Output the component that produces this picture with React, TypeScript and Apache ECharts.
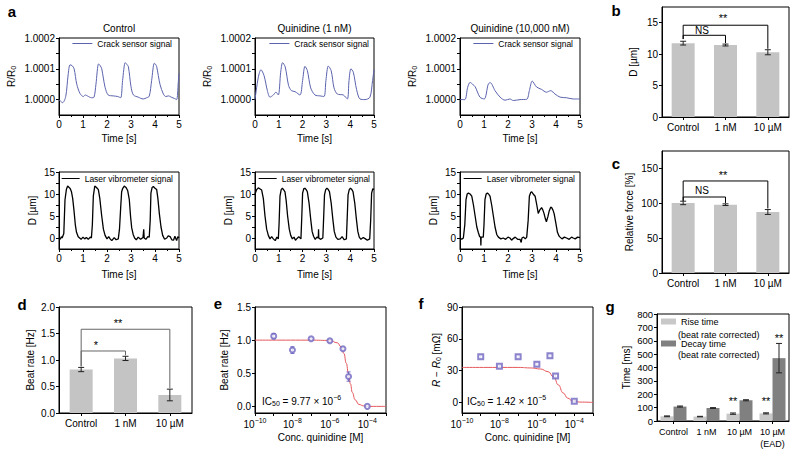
import React, { useEffect, useRef } from 'react';
import * as echarts from 'echarts';

const FONT = 'Liberation Sans, Arial, Helvetica, sans-serif';

// ---------- Panel a : time traces (t [s], value) ----------
const A_TITLES = ['Control', 'Quinidine (1 nM)', 'Quinidine (10,000 nM)'];
const CRACK_NAME = 'Crack sensor signal';
const LASER_NAME = 'Laser vibrometer signal';

const CRACK_CONTROL = [
  [0, 1.0], [0.15, 0.99999], [0.28, 1.00001], [0.38, 1.00008], [0.46, 1.000113], [0.55, 1.00011], [0.63, 1.0001],
  [0.74, 1.00005], [0.875, 1.00002], [1.01, 1.00001], [1.1, 1.000015], [1.18, 1.000012], [1.36, 1.000006], [1.46, 1.000008],
  [1.54, 1.00005], [1.65, 1.000116], [1.72, 1.00011], [1.78, 1.0001], [1.92, 1.00004], [2.05, 1.000015], [2.26, 1.000012],
  [2.45, 1.00001], [2.57, 1.000006], [2.65, 1.000062], [2.76, 1.00012], [2.82, 1.000115], [2.89, 1.000107], [3.0, 1.000042],
  [3.1, 1.000015], [3.3, 1.000008], [3.51, 1.000002], [3.65, 1.000006], [3.76, 1.000011], [3.86, 1.000062], [3.97, 1.000118],
  [4.02, 1.000115], [4.07, 1.000107], [4.21, 1.000049], [4.35, 1.000018], [4.45, 1.00001], [4.56, 1.000012], [4.7, 1.000007],
  [4.8, 1.000004], [4.9, 1.0], [4.97, 1.000055], [5.0, 1.000085],
];
const CRACK_1NM = [
  [0, 1.0], [0.14, 1.000073], [0.25, 1.000097], [0.38, 1.000078], [0.52, 1.000029], [0.63, 1.000008], [0.77, 1.000015],
  [0.88, 1.000024], [0.98, 1.000015], [1.08, 1.000089], [1.16, 1.00012], [1.27, 1.000106], [1.41, 1.000046], [1.53, 1.000029],
  [1.68, 1.000026], [1.89, 1.000015], [2.0, 1.000062], [2.1, 1.000108], [2.2, 1.000094], [2.34, 1.000038], [2.52, 1.000015],
  [2.73, 1.000012], [2.9, 1.00001], [2.98, 1.000062], [3.08, 1.000109], [3.2, 1.000094], [3.32, 1.000038], [3.46, 1.000018],
  [3.71, 1.000015], [3.88, 1.000002], [3.95, 1.000062], [4.03, 1.0001], [4.13, 1.000089], [4.27, 1.000032], [4.41, 1.000002],
  [4.62, 1.0], [4.83, 1.000008], [4.94, 1.000062], [5.0, 1.000097],
];
const CRACK_10UM = [
  [0, 1.0], [0.2, 1.0], [0.32, 1.00004], [0.42, 1.000056], [0.52, 1.00005], [0.63, 1.000042], [0.83, 1.000008],
  [1.01, 1.000002], [1.18, 1.000051], [1.26, 1.000055], [1.46, 1.000029], [1.67, 1.000008], [1.88, 0.999998],
  [2.08, 1.000002], [2.22, 0.999997], [2.5, 1.0], [2.78, 1.000001], [2.89, 1.000029], [3.01, 1.00006], [3.19, 1.000041],
  [3.4, 1.000033], [3.6, 1.000024], [3.78, 1.000029], [3.96, 1.000018], [4.17, 1.000008], [4.44, 1.000006],
  [4.72, 1.000002], [5.0, 1.000002],
];
const LASER_CONTROL = [
  [0, 0.1], [0.05, -0.3], [0.1, 0.3], [0.13, 0], [0.2, 1], [0.25, 8.7], [0.31, 11.1], [0.36, 11.8], [0.42, 11.5],
  [0.47, 11.2], [0.52, 10.5], [0.57, 9], [0.62, 6.5], [0.68, 3], [0.73, 1.3], [0.8, 0.3], [0.86, 0], [0.92, -0.3],
  [1.0, 0.2], [1.07, -0.2], [1.14, 0.1], [1.22, -0.3], [1.3, 0.2], [1.35, 0], [1.39, 3], [1.43, 9.5], [1.49, 11.8],
  [1.54, 11.6], [1.59, 11.3], [1.64, 11], [1.7, 9], [1.78, 5], [1.85, 2], [1.92, 0.6], [2.0, -0.2], [2.07, 0.3],
  [2.13, -0.2], [2.2, -0.6], [2.3, 0.1], [2.38, -0.4], [2.47, -0.2], [2.52, 2], [2.57, 6.9], [2.61, 10.5], [2.65, 11.2],
  [2.72, 11.8], [2.79, 11.5], [2.86, 10.8], [2.93, 8.7], [2.98, 5], [3.03, 2.3], [3.09, 0.8], [3.15, 0], [3.22, -0.4],
  [3.3, 0.2], [3.4, -0.3], [3.5, 0.1], [3.53, 2], [3.55, 0], [3.62, -0.3], [3.7, 0.3], [3.76, 0.2], [3.8, 4], [3.83, 10.2],
  [3.88, 11.5], [3.93, 11.7], [4.0, 11.3], [4.07, 11], [4.12, 9], [4.18, 5.6], [4.25, 2.5], [4.32, 0.6], [4.4, -0.3],
  [4.49, 0], [4.55, 0.5], [4.63, 0.3], [4.7, -0.4], [4.77, -0.5], [4.83, 0.4], [4.9, -0.6], [4.95, 0.3], [5.0, 0],
];
const LASER_1NM = [
  [0, 10], [0.07, 11], [0.14, 11.4], [0.2, 11.2], [0.28, 10.9], [0.35, 9], [0.42, 5], [0.49, 2], [0.56, 0.6], [0.63, -0.2],
  [0.7, 0.3], [0.77, -0.2], [0.85, -0.6], [0.92, 0.2], [0.98, -0.2], [1.01, 3], [1.05, 9.5], [1.1, 11], [1.15, 11.3],
  [1.2, 11], [1.26, 10.5], [1.31, 8.5], [1.37, 5], [1.44, 2], [1.5, 0.6], [1.57, -0.2], [1.64, 0.2], [1.7, -0.5],
  [1.75, -0.2], [1.84, 0.3], [1.93, -0.2], [1.96, 4], [2.0, 10.2], [2.05, 11.2], [2.1, 11.3], [2.15, 11], [2.2, 10.5],
  [2.27, 8], [2.34, 4.3], [2.4, 1.5], [2.46, 0.4], [2.53, -0.3], [2.6, 0.2], [2.66, 0], [2.67, 2], [2.68, 0], [2.75, -0.3],
  [2.85, 0], [2.88, 4], [2.92, 9.8], [2.97, 11], [3.02, 11.3], [3.08, 11], [3.13, 10.5], [3.2, 8], [3.27, 4.3], [3.33, 1.5],
  [3.4, 0.2], [3.48, -0.3], [3.58, -0.2], [3.66, 0.3], [3.75, -0.4], [3.84, -0.2], [3.87, 4], [3.91, 9.8], [3.96, 11],
  [4.01, 11.3], [4.07, 11], [4.12, 10.5], [4.19, 8], [4.26, 4.3], [4.32, 1.5], [4.38, 0.2], [4.45, -0.3], [4.55, 0.1],
  [4.64, -0.2], [4.72, -0.5], [4.82, -0.2], [4.86, 4], [4.9, 10.2], [4.95, 11.2], [5.0, 11],
];
const LASER_10UM = [
  [0, 0], [0.07, -0.3], [0.14, 0], [0.2, 3], [0.25, 8.7], [0.3, 10], [0.35, 10.2], [0.42, 10], [0.49, 9.5], [0.56, 7.5],
  [0.63, 5], [0.7, 2.5], [0.76, 1.3], [0.82, 0.3], [0.86, 0.2], [0.87, -1.7], [0.88, 0.2], [0.97, 0.2], [1.0, 3],
  [1.04, 8.7], [1.09, 10], [1.14, 10.2], [1.19, 10], [1.25, 9.5], [1.32, 7.5], [1.39, 5], [1.46, 2.5], [1.53, 0.8],
  [1.6, 0.2], [1.7, -0.2], [1.8, 0], [1.9, -0.3], [2.0, 0.2], [2.08, 0], [2.15, -0.5], [2.2, -0.2], [2.3, 0.2], [2.4, -0.3],
  [2.5, -0.3], [2.55, -1], [2.58, 0], [2.65, 0.2], [2.72, -0.2], [2.78, 0.2], [2.84, 4], [2.89, 9.5], [2.95, 10.4],
  [2.99, 10.5], [3.05, 10], [3.13, 9.5], [3.2, 7.5], [3.26, 5.6], [3.33, 6.4], [3.4, 6.9], [3.45, 6.4], [3.5, 5.6],
  [3.56, 4.3], [3.6, 3.7], [3.66, 4.8], [3.72, 6.2], [3.78, 7], [3.82, 6.9], [3.87, 6.4], [3.92, 5.6], [3.99, 3.5],
  [4.06, 1.3], [4.12, 0.5], [4.17, 0.2], [4.25, -0.2], [4.35, 0.2], [4.44, 0], [4.55, -0.3], [4.65, 0.2], [4.72, 0],
  [4.8, -0.2], [4.9, 0.2], [5.0, 0.1],
];
const R_LABELS = [1.0, 1.0001, 1.0002];
const R_TICKS = [1.0, 1.00005, 1.0001, 1.00015, 1.0002];
const D_LABELS = [0, 5, 10, 15];
const D_TICKS = [0, 2.5, 5, 7.5, 10, 12.5, 15];

// ---------- Panels b, c, d ----------
const BAR_CATS = ['Control', '1 nM', '10 µM'];
const B_DISP = [11.75, 11.45, 10.3];
const B_ERR = [0.3, 0.15, 0.4];
const C_FORCE = [100.5, 98, 87.5];
const C_ERR = [2.5, 1.2, 3.5];
const D_RATE = [0.82, 1.03, 0.34];
const D_ERR = [0.04, 0.04, 0.11];

// significance brackets [category index, value]
const B_NS = [[0, 12.4], [0, 13.0], [1, 13.0], [1, 11.75]];
const B_SIG = [[0, 12.4], [0, 14.6], [2, 14.6], [2, 10.85]];
const C_NS = [[0, 103.5], [0, 109], [1, 109], [1, 100.5]];
const C_SIG = [[0, 103.5], [0, 132], [2, 132], [2, 92.5]];
const D_SIG1 = [[0, 0.88], [0, 1.17], [1, 1.17], [1, 1.09]];
const D_SIG2 = [[0, 0.88], [0, 1.58], [2, 1.58], [2, 0.47]];

// ---------- Panels e, f ----------
const E_CONC = [1e-9, 1e-8, 1e-7, 1e-6, 5e-6, 1e-5, 1e-4];
const E_RATE = [1.06, 0.85, 1.02, 0.99, 0.87, 0.45, 0.0];
const E_ERR = [0.04, 0.05, 0.015, 0.02, 0.02, 0.07, 0.0];
const E_FIT = [
  [-10, 1.0], [-7, 1.0], [-6, 0.995], [-5.6, 0.96], [-5.4, 0.9], [-5.25, 0.8], [-5.12, 0.65], [-5.01, 0.5],
  [-4.9, 0.34], [-4.8, 0.21], [-4.65, 0.1], [-4.45, 0.03], [-4.2, 0.008], [-3.8, 0], [-3, 0],
];
const F_CONC = [1e-9, 1e-8, 1e-7, 1e-6, 5e-6, 1e-5, 1e-4];
const F_VAL = [43, 34, 43, 36, 44, 25, 1];
const F_ERR = [1.5, 1, 1.5, 1.5, 1.5, 1.5, 0.5];
const F_FIT = [
  [-10, 33], [-7, 33], [-6.3, 32.5], [-5.8, 31.5], [-5.4, 29], [-5.1, 24], [-4.85, 16.5], [-4.6, 9],
  [-4.35, 4], [-4.1, 1.5], [-3.7, 0.3], [-3, 0],
];

// ---------- Panel g ----------
const G_CATS = ['Control', '1 nM', '10 µM', '10 µM\n(EAD)'];
const G_RISE = [35, 33, 55, 57];
const G_RISE_ERR = [3, 2, 5, 4];
const G_DECAY = [108, 97, 155, 470];
const G_DECAY_ERR = [4, 3, 4, 110];
const G_RISE_SIG = [false, false, true, true];
const G_DECAY_SIG = [false, false, false, true];

const GRIDS = [
  { left: 59, top: 38, width: 120, height: 77 },
  { left: 255, top: 38, width: 119, height: 77 },
  { left: 460, top: 38, width: 120, height: 77 },
  { left: 59, top: 172, width: 120, height: 77 },
  { left: 255, top: 172, width: 119, height: 77 },
  { left: 460, top: 172, width: 120, height: 77 },
  { left: 662, top: 7, width: 127, height: 110 },
  { left: 662, top: 151, width: 127, height: 122 },
  { left: 59, top: 307, width: 133, height: 106 },
  { left: 255, top: 307, width: 131, height: 106 },
  { left: 462, top: 307, width: 131, height: 106 },
  { left: 657, top: 314, width: 132, height: 107 },
];

function axis(extra: any) {
  const base: any = {
    axisLine: { show: true, onZero: false, lineStyle: { color: '#000', width: 1 } },
    axisTick: { show: true, inside: false, length: 3, lineStyle: { color: '#000', width: 1 } },
    axisLabel: { color: '#000', fontSize: 10, fontFamily: FONT, margin: 4 },
    splitLine: { show: false },
    nameTextStyle: { color: '#000', fontSize: 10, fontFamily: FONT },
  };
  const out: any = { ...base, ...extra };
  for (const k of ['axisLine', 'axisTick', 'axisLabel', 'nameTextStyle']) {
    if (extra[k]) out[k] = { ...base[k], ...extra[k] };
  }
  return out;
}

function errSeries(idx: number, data: number[][], offset = 0, cap = 3, color = '#222') {
  return {
    type: 'custom', xAxisIndex: idx, yAxisIndex: idx, data, silent: true, z: 5,
    renderItem: (_p: any, api: any) => {
      const x = api.value(0), y = api.value(1), e = api.value(2);
      const p1 = api.coord([x, y + e]);
      const p2 = api.coord([x, y - e]);
      const cx = p1[0] + offset;
      const st = { stroke: color, lineWidth: 1 };
      return {
        type: 'group', children: [
          { type: 'line', shape: { x1: cx, y1: p1[1], x2: cx, y2: p2[1] }, style: st },
          { type: 'line', shape: { x1: cx - cap, y1: p1[1], x2: cx + cap, y2: p1[1] }, style: st },
          { type: 'line', shape: { x1: cx - cap, y1: p2[1], x2: cx + cap, y2: p2[1] }, style: st },
        ],
      };
    },
  };
}

function bracket(idx: number, data: number[][], color = '#000') {
  return {
    type: 'line', xAxisIndex: idx, yAxisIndex: idx, data, symbol: 'none', silent: true, z: 4,
    lineStyle: { color, width: 1 },
  };
}

const SUP = { fontSize: 7, fontFamily: FONT, color: '#000', padding: [0, 0, 7, 0] };
const SUB = { fontSize: 7, fontFamily: FONT, color: '#000', padding: [5, 0, 0, 0] };

function txt(x: number, y: number, text: string, size = 10, extra: any = {}) {
  return {
    type: 'text', x, y, silent: true,
    style: { text, fill: '#000', font: `${size}px ${FONT}`, align: 'center', verticalAlign: 'middle', ...extra },
  };
}

function buildOption() {
  const xAxis: any[] = [];
  const yAxis: any[] = [];
  const series: any[] = [];
  const legend: any[] = [];

  const crack = [CRACK_CONTROL, CRACK_1NM, CRACK_10UM];
  const laser = [LASER_CONTROL, LASER_1NM, LASER_10UM];
  const topRight = [618, 421, 217];
  const botRight = [617, 420, 215];

  for (let i = 0; i < 3; i++) {
    xAxis.push(axis({
      type: 'value', gridIndex: i, min: 0, max: 5, interval: 1, name: 'Time [s]', nameLocation: 'middle', nameGap: 18,
      minorTick: { show: true, splitNumber: 2, length: 2, lineStyle: { color: '#000' } },
    }));
    yAxis.push(axis({
      type: 'value', gridIndex: i, min: 0.99995, max: 1.0002, name: 'R/R{sub|0}', nameLocation: 'middle', nameGap: 42,
      nameTextStyle: { rich: { sub: SUB } },
      axisLabel: { customValues: R_LABELS, formatter: (v: number) => v.toFixed(4) },
      axisTick: { customValues: R_TICKS },
    }));
    series.push({
      type: 'line', name: CRACK_NAME, xAxisIndex: i, yAxisIndex: i, data: crack[i], symbol: 'none', smooth: 0.3,
      lineStyle: { color: '#5b63ae', width: 1 }, itemStyle: { color: '#5b63ae' },
    });
    legend.push({
      data: [{ name: CRACK_NAME, icon: 'rect' }], right: topRight[i], top: 39, padding: 0, itemWidth: 20, itemHeight: 1,
      selectedMode: false, textStyle: { fontSize: 8.5, fontFamily: FONT, color: '#000', padding: [0, 0, 0, 0] },
    });
  }
  for (let i = 0; i < 3; i++) {
    const g = 3 + i;
    xAxis.push(axis({
      type: 'value', gridIndex: g, min: 0, max: 5, interval: 1, name: 'Time [s]', nameLocation: 'middle', nameGap: 20,
      minorTick: { show: true, splitNumber: 2, length: 2, lineStyle: { color: '#000' } },
    }));
    yAxis.push(axis({
      type: 'value', gridIndex: g, min: -2.5, max: 15, name: 'D [µm]', nameLocation: 'middle', nameGap: 22,
      axisLabel: { customValues: D_LABELS },
      axisTick: { customValues: D_TICKS },
    }));
    series.push({
      type: 'line', name: LASER_NAME, xAxisIndex: g, yAxisIndex: g, data: laser[i], symbol: 'none',
      lineStyle: { color: '#000', width: 1.3 }, itemStyle: { color: '#000' },
    });
    legend.push({
      data: [{ name: LASER_NAME, icon: 'rect' }], right: botRight[i], top: 174, padding: 0, itemWidth: 18, itemHeight: 1,
      selectedMode: false, textStyle: { fontSize: 8.5, fontFamily: FONT, color: '#000' },
    });
  }

  // b
  const catAxis = (g: number, data: string[]) => axis({
    type: 'category', gridIndex: g, data, boundaryGap: true,
    axisTick: { alignWithLabel: true }, axisLabel: { margin: 5, fontSize: 10, interval: 0 },
  });
  xAxis.push(catAxis(6, BAR_CATS));
  yAxis.push(axis({
    type: 'value', gridIndex: 6, min: 0, max: 17.5, name: 'D [µm]', nameLocation: 'middle', nameGap: 24,
    axisLabel: { customValues: [0, 5, 10, 15] }, axisTick: { customValues: [0, 5, 10, 15] },
  }));
  series.push({ type: 'bar', xAxisIndex: 6, yAxisIndex: 6, data: B_DISP, barWidth: 23, itemStyle: { color: '#c4c4c4' }, silent: true });
  series.push(errSeries(6, BAR_CATS.map((_, i) => [i, B_DISP[i], B_ERR[i]])));
  series.push(bracket(6, B_NS), bracket(6, B_SIG));

  // c
  xAxis.push(catAxis(7, BAR_CATS));
  yAxis.push(axis({
    type: 'value', gridIndex: 7, min: 0, max: 175, name: 'Relative force [%]', nameLocation: 'middle', nameGap: 28,
    axisLabel: { customValues: [0, 50, 100, 150] }, axisTick: { customValues: [0, 50, 100, 150] },
  }));
  series.push({ type: 'bar', xAxisIndex: 7, yAxisIndex: 7, data: C_FORCE, barWidth: 23, itemStyle: { color: '#c4c4c4' }, silent: true });
  series.push(errSeries(7, BAR_CATS.map((_, i) => [i, C_FORCE[i], C_ERR[i]])));
  series.push(bracket(7, C_NS), bracket(7, C_SIG));

  // d
  xAxis.push(catAxis(8, BAR_CATS));
  yAxis.push(axis({
    type: 'value', gridIndex: 8, min: 0, max: 2, interval: 0.5, name: 'Beat rate [Hz]', nameLocation: 'middle', nameGap: 24,
    axisLabel: { formatter: (v: number) => v.toFixed(1) },
  }));
  series.push({ type: 'bar', xAxisIndex: 8, yAxisIndex: 8, data: D_RATE, barWidth: 23, itemStyle: { color: '#c4c4c4' }, silent: true });
  series.push(errSeries(8, BAR_CATS.map((_, i) => [i, D_RATE[i], D_ERR[i]])));
  series.push(bracket(8, D_SIG1, '#666'), bracket(8, D_SIG2, '#666'));

  // e, f
  const logAxis = (g: number) => axis({
    type: 'value', gridIndex: g, min: -10, max: -3, interval: 1, name: 'Conc. quinidine [M]', nameLocation: 'middle', nameGap: 19,
    axisLabel: {
      margin: 4,
      formatter: (v: number) => (v % 2 === 0 && v <= -4 ? `10{sup|−${Math.abs(v)}}` : ''),
      rich: { sup: SUP },
    },
  });
  xAxis.push(logAxis(9));
  yAxis.push(axis({
    type: 'value', gridIndex: 9, min: -0.1, max: 1.5, name: 'Beat rate [Hz]', nameLocation: 'middle', nameGap: 26,
    axisLabel: { customValues: [0, 0.5, 1, 1.5], formatter: (v: number) => v.toFixed(1) },
    axisTick: { customValues: [0, 0.5, 1, 1.5] },
  }));
  series.push({
    type: 'line', xAxisIndex: 9, yAxisIndex: 9, data: E_FIT, symbol: 'none', smooth: true, smoothMonotone: 'x',
    lineStyle: { color: '#e5575c', width: 1 }, silent: true,
  });
  series.push(errSeries(9, E_CONC.map((c, i) => [Math.log10(c), E_RATE[i], E_ERR[i]]), 0, 2, '#6f66c0'));
  series.push({
    type: 'scatter', xAxisIndex: 9, yAxisIndex: 9, data: E_CONC.map((c, i) => [Math.log10(c), E_RATE[i]]),
    symbol: 'emptyCircle', symbolSize: 5, itemStyle: { color: '#6f66c0', borderWidth: 1 }, silent: true, z: 6,
  });

  xAxis.push(logAxis(10));
  yAxis.push(axis({
    type: 'value', gridIndex: 10, min: -10, max: 90, name: '{i|R} − {i|R}{sub|0} [mΩ]', nameLocation: 'middle', nameGap: 20,
    nameTextStyle: { rich: { i: { fontStyle: 'italic', fontSize: 10, fontFamily: FONT, color: '#000' }, sub: SUB } },
    axisLabel: { customValues: [0, 30, 60, 90] },
    axisTick: { customValues: [0, 30, 60, 90] },
  }));
  series.push({
    type: 'line', xAxisIndex: 10, yAxisIndex: 10, data: F_FIT, symbol: 'none', smooth: true, smoothMonotone: 'x',
    lineStyle: { color: '#e5575c', width: 1 }, silent: true,
  });
  series.push(errSeries(10, F_CONC.map((c, i) => [Math.log10(c), F_VAL[i], F_ERR[i]]), 0, 2, '#6f66c0'));
  series.push({
    type: 'scatter', xAxisIndex: 10, yAxisIndex: 10, data: F_CONC.map((c, i) => [Math.log10(c), F_VAL[i]]),
    symbol: 'emptyRect', symbolSize: 5, itemStyle: { color: '#6f66c0', borderWidth: 1 }, silent: true, z: 6,
  });

  // g
  xAxis.push(axis({
    type: 'category', gridIndex: 11, data: G_CATS, boundaryGap: true,
    axisTick: { alignWithLabel: true }, axisLabel: { margin: 5, fontSize: 9, lineHeight: 12, interval: 0 },
  }));
  yAxis.push(axis({
    type: 'value', gridIndex: 11, min: 0, max: 800, interval: 100, name: 'Time [ms]', nameLocation: 'middle', nameGap: 26,
    axisLabel: { fontSize: 9.5 },
  }));
  const sigLabel = (dist: number) => ({ show: true, position: 'top', distance: dist, formatter: '**', fontSize: 11, color: '#000', fontFamily: FONT });
  series.push({
    type: 'bar', name: 'Rise time', xAxisIndex: 11, yAxisIndex: 11, barWidth: 13, barGap: '0%', silent: true,
    itemStyle: { color: '#c8c8c8' },
    data: G_RISE.map((v, i) => (G_RISE_SIG[i] ? { value: v, label: sigLabel(7) } : v)),
  });
  series.push({
    type: 'bar', name: 'Decay time', xAxisIndex: 11, yAxisIndex: 11, barWidth: 13, barGap: '0%', silent: true,
    itemStyle: { color: '#808080' },
    data: G_DECAY.map((v, i) => (G_DECAY_SIG[i] ? { value: v, label: sigLabel(15) } : v)),
  });
  series.push(errSeries(11, G_CATS.map((_, i) => [i, G_RISE[i], G_RISE_ERR[i]]), -6.5, 3));
  series.push(errSeries(11, G_CATS.map((_, i) => [i, G_DECAY[i], G_DECAY_ERR[i]]), 6.5, 3));
  legend.push({
    data: [{ name: 'Rise time', icon: 'rect' }, { name: 'Decay time', icon: 'rect' }], orient: 'vertical',
    left: 661, top: 317, padding: 0, itemWidth: 15, itemHeight: 6, itemGap: 13, selectedMode: false,
    textStyle: { fontSize: 9, fontFamily: FONT, color: '#000' },
  });

  const graphic: any[] = [
    txt(12, 11, 'a', 15, { font: `bold 15px ${FONT}` }),
    txt(616, 10, 'b', 15, { font: `bold 15px ${FONT}` }),
    txt(616, 163, 'c', 15, { font: `bold 15px ${FONT}` }),
    txt(22, 304, 'd', 15, { font: `bold 15px ${FONT}` }),
    txt(218, 303, 'e', 15, { font: `bold 15px ${FONT}` }),
    txt(421, 303, 'f', 15, { font: `bold 15px ${FONT}` }),
    txt(610, 306, 'g', 15, { font: `bold 15px ${FONT}` }),
    txt(119, 28, A_TITLES[0], 10),
    txt(314.5, 28, A_TITLES[1], 10),
    txt(520, 28, A_TITLES[2], 10),
    txt(723, 18, '**', 11),
    txt(702, 30, 'NS', 10),
    txt(723, 175, '**', 11),
    txt(702, 190, 'NS', 10),
    txt(96, 345, '*', 11),
    txt(118, 323, '**', 11),
    txt(678, 335, '(beat rate corrected)', 9, { align: 'left' }),
    txt(678, 355, '(beat rate corrected)', 9, { align: 'left' }),
    {
      type: 'text', x: 262, y: 401, silent: true,
      style: { text: 'IC{sub|50} = 9.77 × 10{sup|−6}', fill: '#000', font: `10px ${FONT}`, verticalAlign: 'middle', rich: { sub: SUB, sup: SUP } },
    },
    {
      type: 'text', x: 467, y: 401, silent: true,
      style: { text: 'IC{sub|50} = 1.42 × 10{sup|−5}', fill: '#000', font: `10px ${FONT}`, verticalAlign: 'middle', rich: { sub: SUB, sup: SUP } },
    },
  ];

  return {
    animation: false,
    backgroundColor: '#fff',
    textStyle: { fontFamily: FONT },
    grid: GRIDS.map((g) => ({ ...g, show: true, borderColor: '#000', borderWidth: 1, backgroundColor: 'transparent', containLabel: false })),
    xAxis, yAxis, series, legend, graphic,
  };
}

export default function App() {
  const ref = useRef<HTMLDivElement>(null);
  useEffect(() => {
    document.body.style.margin = '0';
    if (!ref.current) return;
    const chart = echarts.init(ref.current, undefined, { renderer: 'svg' });
    chart.setOption(buildOption() as any);
    return () => chart.dispose();
  }, []);
  return <div ref={ref} style={{ width: 790, height: 450 }} />;
}
